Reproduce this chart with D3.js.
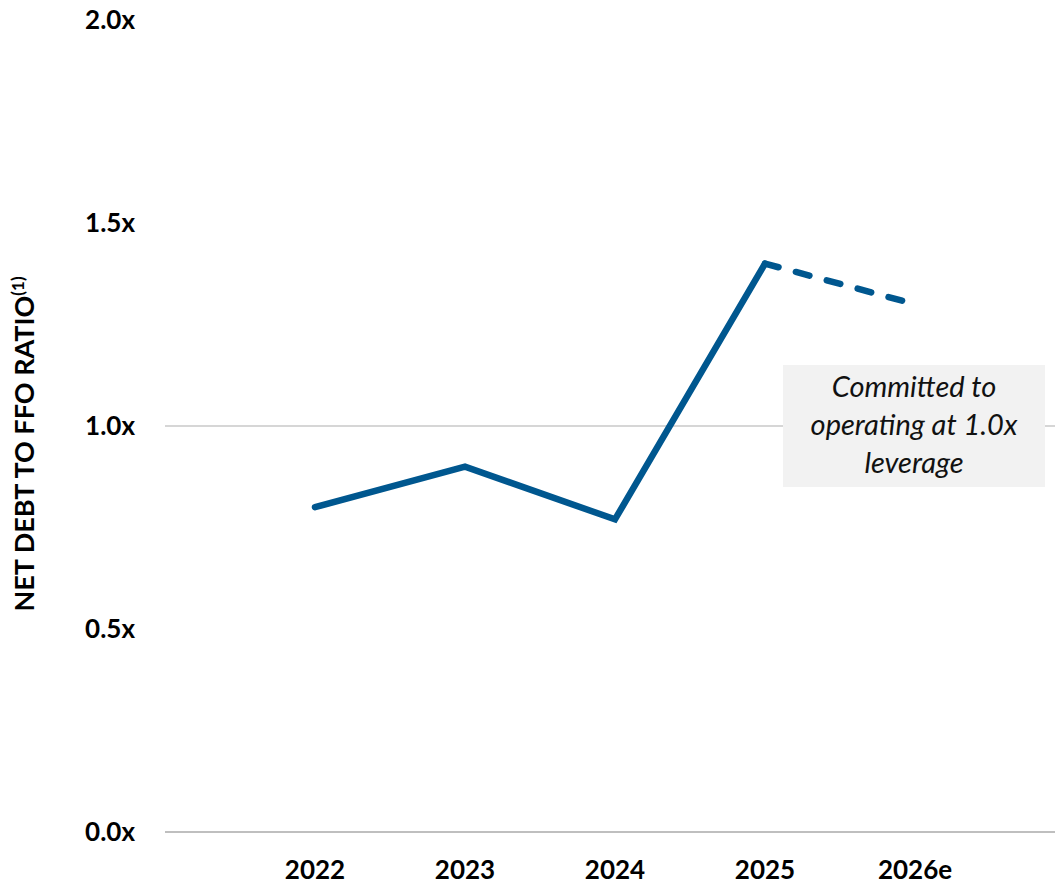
<!DOCTYPE html>
<html><head><meta charset="utf-8">
<script src="https://cdn.jsdelivr.net/npm/d3@7"></script>
<style>body{margin:0;background:#fff;} svg{display:block;}</style>
</head><body>
<svg id="c" width="1055" height="886"></svg>
<script>
const categories = ["2022","2023","2024","2025","2026e"];
const values = [0.80, 0.90, 0.77, 1.40, 1.30];
const yTicks = [0, 0.5, 1.0, 1.5, 2.0];
const tickLabels = ["0.0x","0.5x","1.0x","1.5x","2.0x"];
const gridValues = [0, 1.0];
const annotationLines = ["Committed to","operating at 1.0x","leverage"];
const yTitle = "NET DEBT TO FFO RATIO";
const yTitleSup = "(1)";

const font = "Lato, 'Open Sans', sans-serif";
const color = "#00578f";
const svg = d3.select("#c");
const x = d3.scalePoint().domain(categories).range([315, 915]);
const y = d3.scaleLinear().domain([0, 2]).range([832, 20]);

// gridlines
svg.selectAll("line.grid").data(gridValues).join("line")
  .attr("x1", 165).attr("x2", 1055)
  .attr("y1", d => y(d)).attr("y2", d => y(d))
  .attr("stroke", d => d === 0 ? "#bfbfbf" : "#c8c8c8").attr("stroke-width", d => d === 0 ? 2 : 1.5);

// y tick labels
svg.selectAll("text.ytick").data(yTicks).join("text")
  .attr("x", 135).attr("y", d => y(d)).attr("dy", "0.36em")
  .attr("text-anchor", "end").attr("font-family", font).attr("font-weight", 700)
  .attr("font-size", 26).attr("fill", "#000")
  .text((d, i) => tickLabels[i]);

// x labels
svg.selectAll("text.xtick").data(categories).join("text")
  .attr("x", d => x(d)).attr("y", 879)
  .attr("text-anchor", "middle").attr("font-family", font).attr("font-weight", 700)
  .attr("font-size", 26).attr("fill", "#000")
  .text(d => d);

// y axis title
const t = svg.append("text")
  .attr("transform", "translate(34,444) rotate(-90)")
  .attr("text-anchor", "middle").attr("font-family", font).attr("font-weight", 700)
  .attr("font-size", 27).attr("fill", "#000");
t.append("tspan").text(yTitle);
t.append("tspan").attr("font-size", 17).attr("dy", -10).text(yTitleSup);

// annotation box
svg.append("rect").attr("x", 783).attr("y", 365).attr("width", 262).attr("height", 122).attr("fill", "#f2f2f2");
svg.selectAll("text.ann").data(annotationLines).join("text")
  .attr("x", 914).attr("y", (d, i) => 397 + i * 38)
  .attr("text-anchor", "middle").attr("font-family", font).attr("font-style", "italic")
  .attr("font-size", 29).attr("fill", "#111")
  .text(d => d);

// line
const pts = categories.map((c, i) => ({c, v: values[i]}));
const line = d3.line().x(d => x(d.c)).y(d => y(d.v));
svg.append("path").datum(pts.slice(0, 4)).attr("d", line)
  .attr("fill", "none").attr("stroke", color).attr("stroke-width", 6.5)
  .attr("stroke-linejoin", "miter").attr("stroke-linecap", "round");
svg.append("path").datum(pts.slice(3)).attr("d", line)
  .attr("fill", "none").attr("stroke", color).attr("stroke-width", 6.5)
  .attr("stroke-linecap", "round").attr("stroke-dasharray", "14,18");
</script>
</body></html>
